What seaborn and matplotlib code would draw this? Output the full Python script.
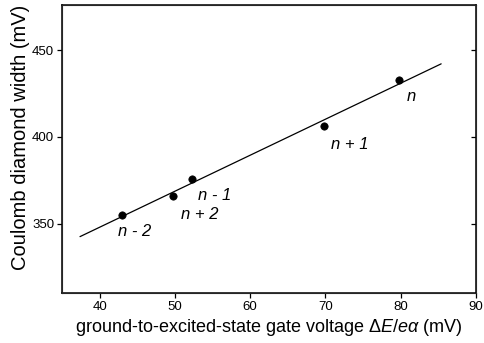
import numpy as np
import pandas as pd
import seaborn as sns
import matplotlib
matplotlib.use('Agg')
import matplotlib.pyplot as plt

# data
gate_voltage = [43.0, 49.8, 52.3, 69.8, 79.8]      # mV
diamond_width = [355.0, 366.0, 376.0, 406.0, 433.0]  # mV
labels = ['n - 2', 'n + 2', 'n - 1', 'n + 1', 'n']
label_x = [44.65, 53.3, 55.3, 73.2, 81.45]
label_y = [345.2, 355.4, 366.1, 395.9, 423.1]
fit_range = [37.4, 85.4]

df = pd.DataFrame({'x': gate_voltage, 'y': diamond_width})

# linear fit through the points
slope, intercept = np.polyfit(df['x'], df['y'], 1)
fit_df = pd.DataFrame({'x': fit_range})
fit_df['y'] = slope * fit_df['x'] + intercept

sns.set_style('ticks')
plt.rcParams['font.family'] = ['Liberation Sans', 'DejaVu Sans']
plt.rcParams['mathtext.fontset'] = 'custom'
plt.rcParams['mathtext.rm'] = 'Liberation Sans'
plt.rcParams['mathtext.it'] = 'Liberation Sans:italic'
plt.rcParams['text.color'] = 'black'
plt.rcParams['axes.labelcolor'] = 'black'

fig, ax = plt.subplots(figsize=(4.84, 3.43), dpi=100)
fig.subplots_adjust(left=0.128, right=0.983, top=0.985, bottom=0.146)

sns.lineplot(x='x', y='y', data=fit_df, ax=ax, color='black', linewidth=0.9)
sns.scatterplot(x='x', y='y', data=df, ax=ax, color='black', s=28, edgecolor='black', linewidth=0.5, zorder=3)

for txt, lx, ly in zip(labels, label_x, label_y):
    ax.text(lx, ly, txt, fontsize=12, style='italic', ha='center', va='center', color='black')

ax.set_xlim(35, 90)
ax.set_ylim(310, 476)
ax.set_xticks([40, 50, 60, 70, 80, 90])
ax.set_yticks([350, 400, 450])

for side in ['left', 'right', 'top', 'bottom']:
    ax.spines[side].set_linewidth(1.1)
    ax.spines[side].set_color('black')

ax.tick_params(axis='both', labelsize=9.5, length=3.6, width=0.9, pad=2,
               color='black', labelcolor='black')

# inward ticks on the right side
ax2 = ax.twinx()
ax2.set_ylim(ax.get_ylim())
ax2.set_yticks([350, 400, 450])
ax2.tick_params(axis='y', direction='in', length=3.6, width=0.9, color='black', labelright=False)
ax2.grid(False)

ax.set_xlabel(r'ground-to-excited-state gate voltage $\Delta E/e\alpha$ (mV)', fontsize=13, labelpad=3, color='black')
ax.set_ylabel('Coulomb diamond width (mV)', fontsize=14.5, color='black')
ax.yaxis.set_label_coords(-0.077, 0.54)

fig.savefig('out.png', dpi=100)
